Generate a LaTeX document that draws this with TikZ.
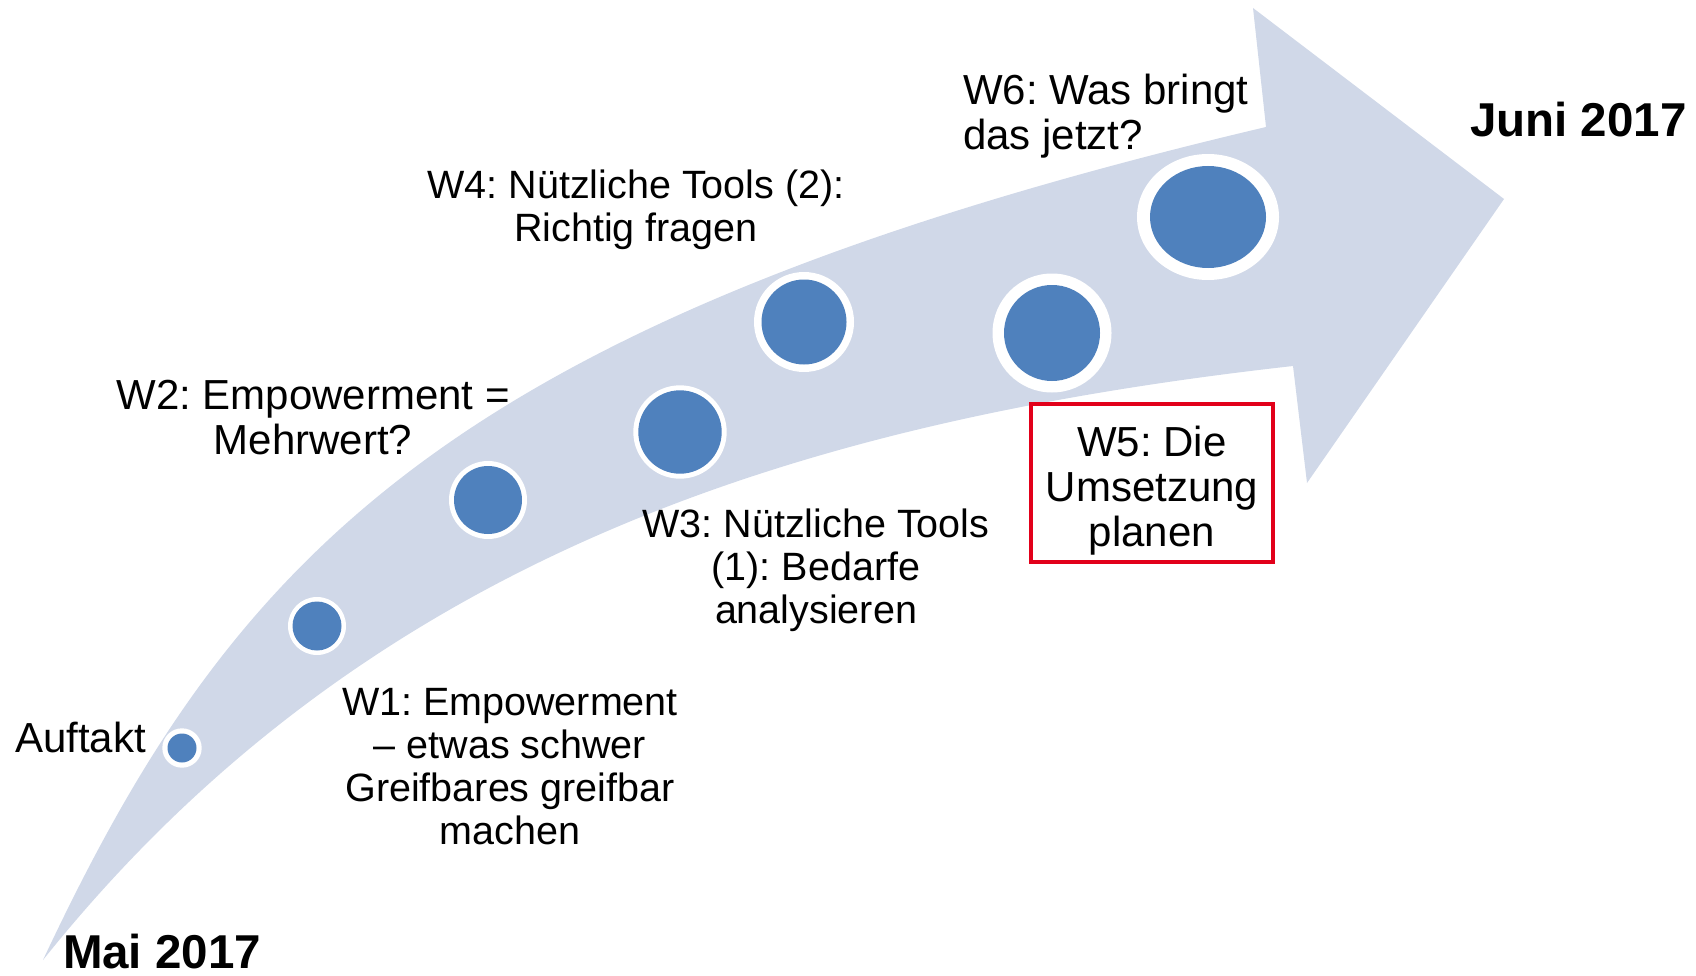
\documentclass[tikz,border=0pt]{standalone}
\usepackage{fontspec}
\setmainfont{Liberation Sans}
\frenchspacing
\definecolor{arrowfill}{HTML}{D0D8E8}
\definecolor{dotblue}{HTML}{4F81BD}
\definecolor{boxred}{HTML}{E2001A}
\begin{document}
\begin{tikzpicture}[x=1pt,y=-1pt,
  lblL/.style={inner sep=0pt,outer sep=0pt,align=center,font=\fontsize{42}{45}\selectfont},
  lblS/.style={inner sep=0pt,outer sep=0pt,align=center,font=\fontsize{39.5}{43}\selectfont},
  datelbl/.style={inner sep=0pt,outer sep=0pt,font=\fontsize{47.5}{50}\selectfont\bfseries},
  ring/.style={fill=white},
  core/.style={fill=dotblue},
  redbox/.style={draw=boxred,line width=4pt,fill=white,inner sep=0pt,minimum width=242pt,minimum height=158pt}
]
\useasboundingbox (0,0) rectangle (1696,976);

% curved arrow
\fill[arrowfill] (43,960) .. controls (231,560) and (443,321) .. (1266,127)
  -- (1253,8) -- (1504,199) -- (1307,483) -- (1293,366)
  .. controls (793,422) and (363,560) .. (43,960) -- cycle;

% milestone dots
\coordinate (d0) at (182,748);
\coordinate (d1) at (317,626);
\coordinate (d2) at (488,500);
\coordinate (d3) at (680,432);
\coordinate (d4) at (804,322);
\coordinate (d5) at (1052,333);
\coordinate (d6) at (1208,217);

\fill[ring] (d0) circle[radius=19.7];  \fill[core] (d0) circle[radius=14.5];
\fill[ring] (d1) circle[radius=29];    \fill[core] (d1) circle[radius=24.5];
\fill[ring] (d2) circle[radius=39];    \fill[core] (d2) circle[radius=34];
\fill[ring] (d3) circle[radius=46.7];  \fill[core] (d3) circle[radius=41.7];
\fill[ring] (d4) circle[radius=50];    \fill[core] (d4) circle[radius=42.5];
\fill[ring] (d5) circle[radius=59.5];  \fill[core] (d5) circle[radius=48];
\fill[ring] (d6) ellipse[x radius=71,y radius=63];  \fill[core] (d6) ellipse[x radius=58,y radius=51];

% labels (base anchor = baseline of the last line)
\node[lblL,anchor=base east] (auftakt) at (146,752) {Auftakt};
\node[lblS,anchor=base] (w1) at (510,844) {W1: Empowerment\\– etwas schwer\\Greifbares greifbar\\machen};
\node[lblL,anchor=base] (w2) at (313,454) {W2: Empowerment =\\Mehrwert?};
\node[lblS,anchor=base] (w3) at (816,623) {W3: Nützliche Tools\\(1): Bedarfe\\analysieren};
\node[lblS,anchor=base] (w4) at (636,242) {W4: Nützliche Tools (2):\\Richtig fragen};
\node[redbox] (w5box) at (1152,483) {};
\node[lblL,anchor=base] (w5) at (1152,546) {W5: Die\\Umsetzung\\planen};
\node[lblL,anchor=base west,align=left] (w6) at (963,150) {W6: Was bringt\\das jetzt?};

\node[datelbl,anchor=base west] (mai) at (63,968) {Mai 2017};
\node[datelbl,anchor=base west] (juni) at (1470,137) {Juni 2017};
\end{tikzpicture}
\end{document}
